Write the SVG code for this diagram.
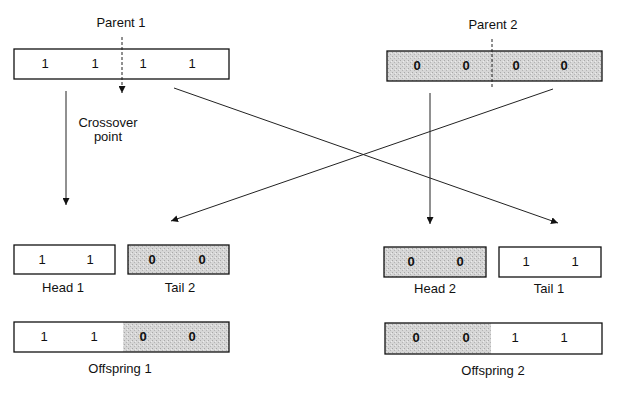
<svg xmlns="http://www.w3.org/2000/svg" width="624" height="402" viewBox="0 0 624 402">
<defs>
<marker id="ah" viewBox="0 0 10 10" refX="10" refY="5" markerWidth="7" markerHeight="7" markerUnits="userSpaceOnUse" orient="auto">
<path d="M0,0 L10,5 L0,10 z" fill="#111"/>
</marker>
<pattern id="stip" width="4" height="4" patternUnits="userSpaceOnUse">
<rect width="4" height="4" fill="#d6d6d6"/>
<rect x="0" y="0" width="1" height="1" fill="#a8a8a8"/>
<rect x="2" y="2" width="1" height="1" fill="#b4b4b4"/>
<rect x="3" y="1" width="1" height="1" fill="#ececec"/>
</pattern>
</defs>
<style>
.box{fill:#fff;stroke:#111;stroke-width:1.3}
.sh{fill:url(#stip);stroke:#111;stroke-width:1.3}
.lbl{font-family:"Liberation Sans",Arial,sans-serif;font-size:13px;fill:#111;text-anchor:middle}
.one{font-family:"Liberation Sans",Arial,sans-serif;font-size:13px;fill:#111;text-anchor:middle}
.zero{font-family:"Liberation Sans",Arial,sans-serif;font-size:13px;font-weight:bold;fill:#111;text-anchor:middle}
.ln{stroke:#222;stroke-width:1;fill:none}
.dash{stroke:#222;stroke-width:1;stroke-dasharray:3,2;fill:none}
</style>
<rect width="624" height="402" fill="#fff"/>
<g id="parent1">
<rect class="box" x="14" y="49" width="215" height="30"/>
<text class="one" x="45" y="68">1</text>
<text class="one" x="95" y="68">1</text>
<text class="one" x="143" y="68">1</text>
<text class="one" x="192" y="68">1</text>
<text class="lbl" x="121" y="27">Parent 1</text>
</g>
<g id="parent2">
<rect class="sh" x="387" y="51" width="215" height="30"/>
<text class="zero" x="417" y="70">0</text>
<text class="zero" x="466" y="70">0</text>
<text class="zero" x="516" y="70">0</text>
<text class="zero" x="564" y="70">0</text>
<text class="lbl" x="493" y="29">Parent 2</text>
</g>
<g id="crossover">
<text class="lbl" x="108" y="127">Crossover</text>
<text class="lbl" x="108" y="141">point</text>
</g>
<g id="head1">
<rect class="box" x="14" y="245" width="101" height="29"/>
<text class="one" x="42" y="264">1</text>
<text class="one" x="90" y="264">1</text>
<text class="lbl" x="63" y="292">Head 1</text>
</g>
<g id="tail2">
<rect class="sh" x="128" y="245" width="101" height="29"/>
<text class="zero" x="152" y="264">0</text>
<text class="zero" x="202" y="264">0</text>
<text class="lbl" x="180" y="292">Tail 2</text>
</g>
<g id="head2">
<rect class="sh" x="384" y="247" width="102" height="30"/>
<text class="zero" x="411" y="266">0</text>
<text class="zero" x="460" y="266">0</text>
<text class="lbl" x="435" y="293">Head 2</text>
</g>
<g id="tail1">
<rect class="box" x="499" y="247" width="102" height="30"/>
<text class="one" x="526" y="266">1</text>
<text class="one" x="575" y="266">1</text>
<text class="lbl" x="549" y="293">Tail 1</text>
</g>
<g id="offspring1">
<rect x="123" y="322" width="106" height="30" fill="url(#stip)"/>
<rect x="14" y="322" width="215" height="30" fill="none" stroke="#111" stroke-width="1.3"/>
<text class="one" x="44" y="341">1</text>
<text class="one" x="94" y="341">1</text>
<text class="zero" x="143" y="341">0</text>
<text class="zero" x="192" y="341">0</text>
<text class="lbl" x="120" y="373">Offspring 1</text>
</g>
<g id="offspring2">
<rect x="385" y="323" width="106" height="31" fill="url(#stip)"/>
<rect x="385" y="323" width="217" height="31" fill="none" stroke="#111" stroke-width="1.3"/>
<text class="zero" x="416" y="342">0</text>
<text class="zero" x="466" y="342">0</text>
<text class="one" x="515" y="342">1</text>
<text class="one" x="564" y="342">1</text>
<text class="lbl" x="493" y="375">Offspring 2</text>
</g>
<g id="connectors">
<line class="dash" x1="122" y1="37" x2="122" y2="93" marker-end="url(#ah)"/>
<line class="dash" x1="492" y1="39" x2="492" y2="89"/>
<line class="ln" x1="66" y1="91" x2="66" y2="205" marker-end="url(#ah)"/>
<line class="ln" x1="430" y1="93" x2="430" y2="224" marker-end="url(#ah)"/>
<line class="ln" x1="174" y1="88" x2="558" y2="223" marker-end="url(#ah)"/>
<line class="ln" x1="553" y1="89" x2="171" y2="221" marker-end="url(#ah)"/>
</g>
</svg>
